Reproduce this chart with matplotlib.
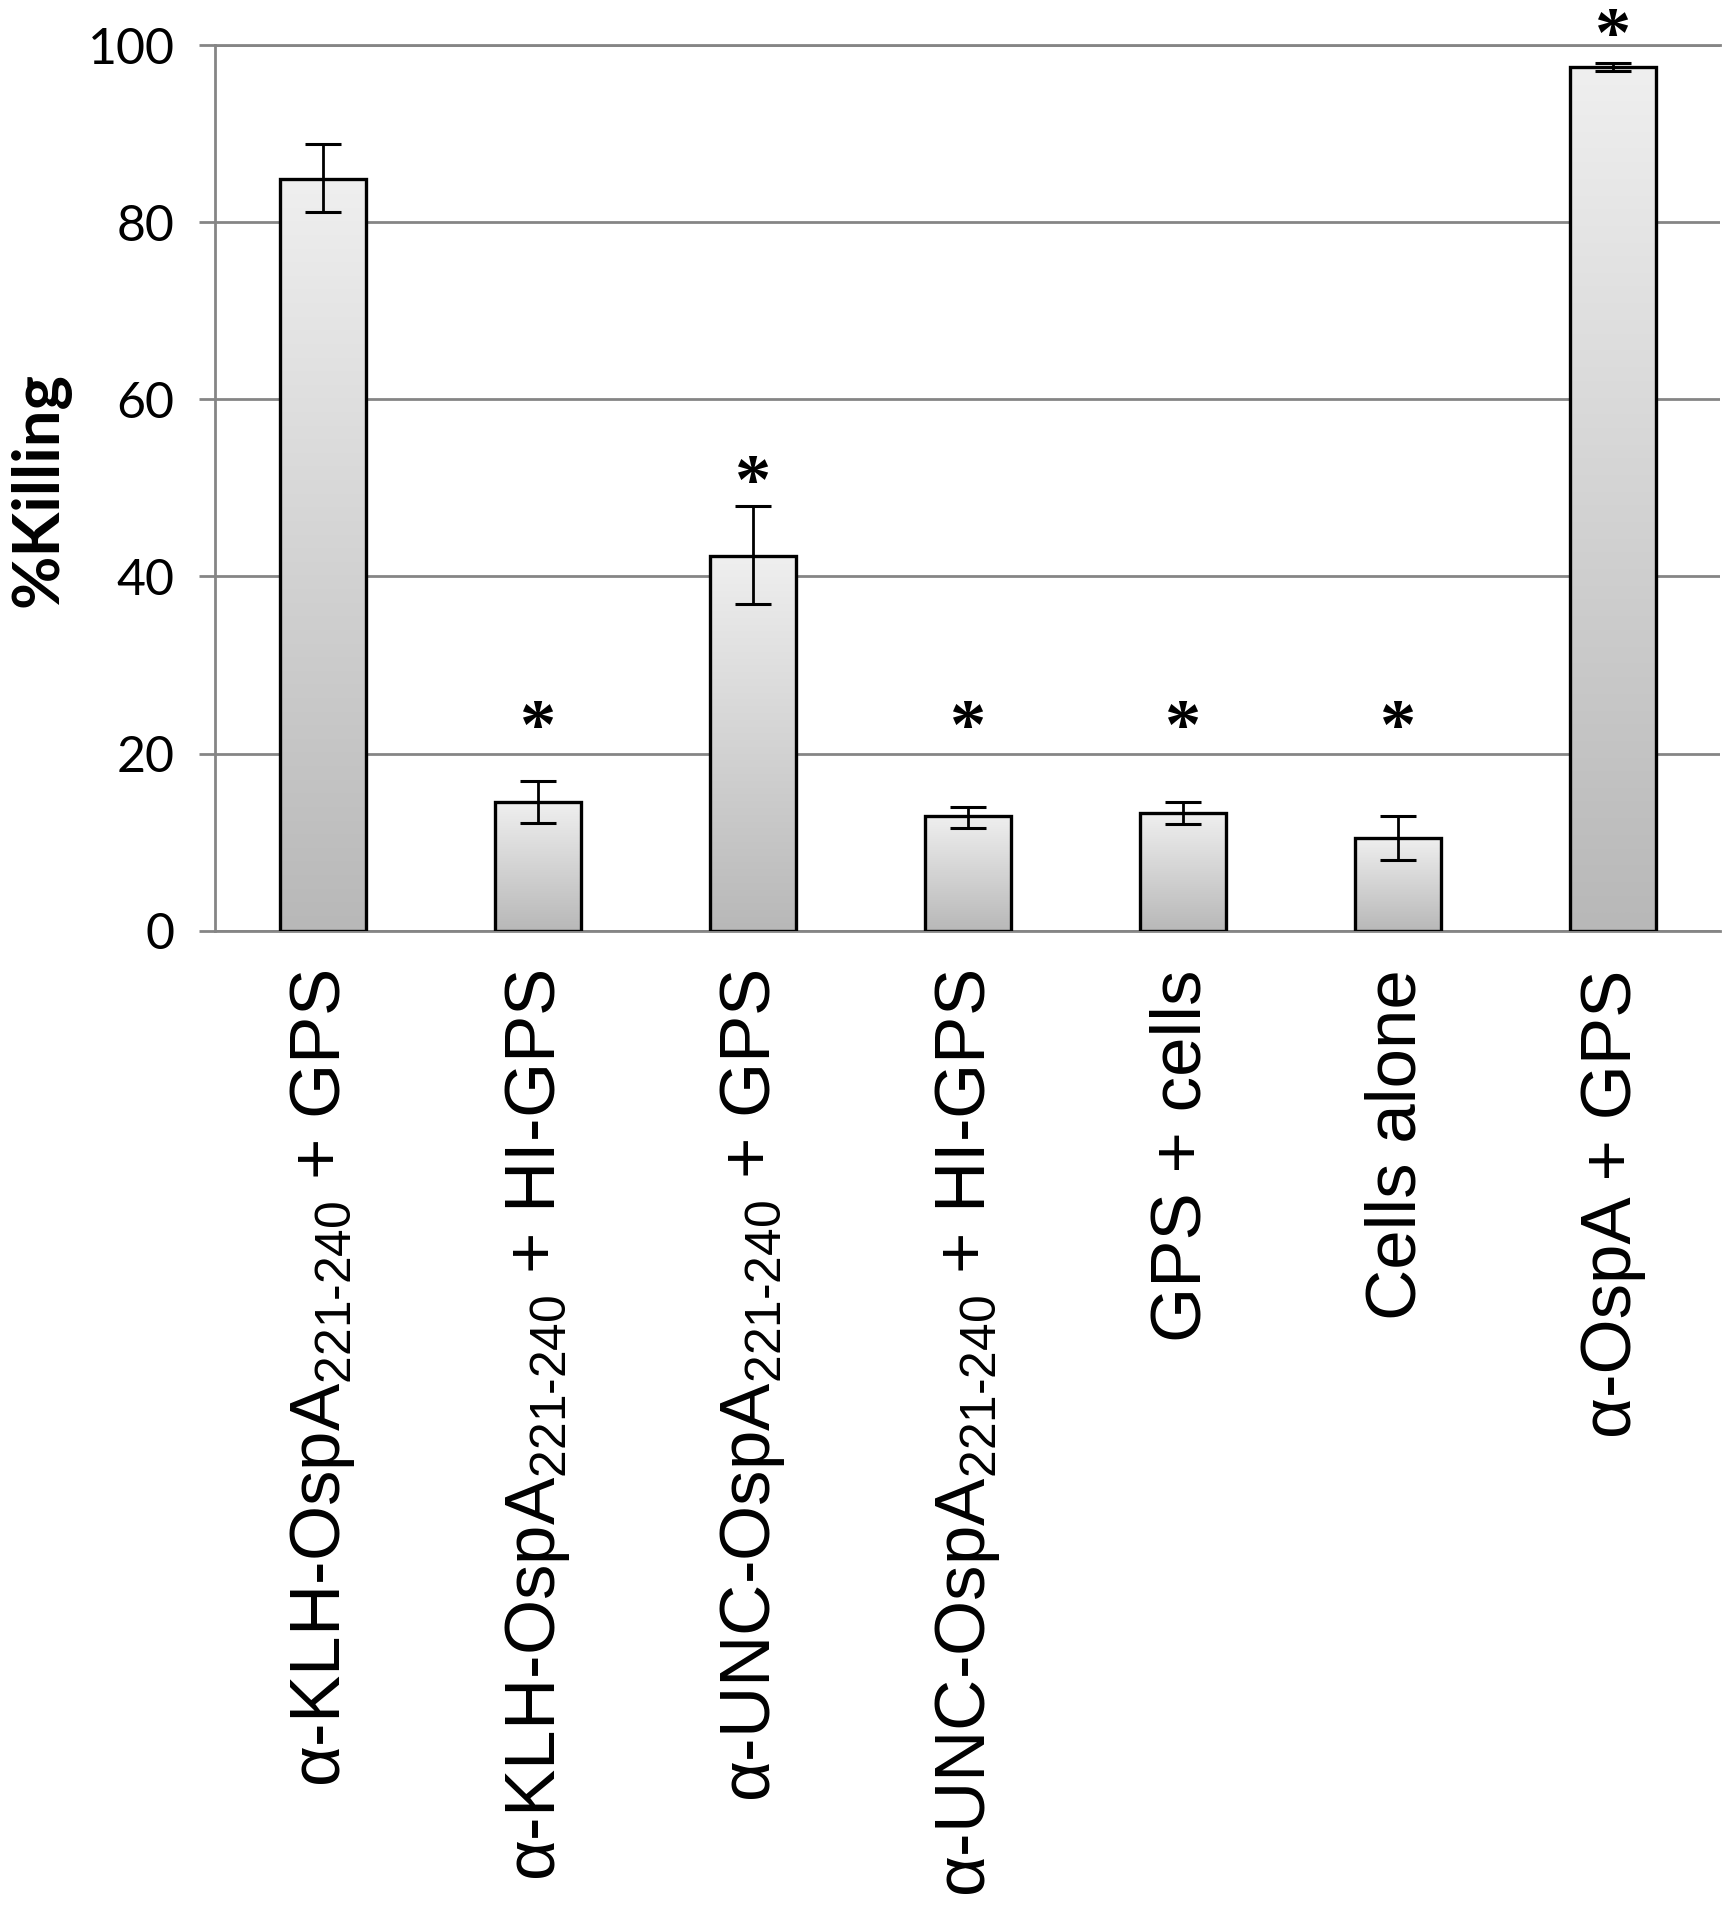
# %Killing bar chart with gradient bars, error bars and significance stars

import numpy as np
import matplotlib.pyplot as plt
from matplotlib.colors import LinearSegmentedColormap

plt.rcParams['mathtext.fontset'] = 'custom'
plt.rcParams['mathtext.rm'] = 'Liberation Sans'
plt.rcParams['mathtext.it'] = 'Liberation Sans:italic'
plt.rcParams['mathtext.bf'] = 'Liberation Sans:bold'
plt.rcParams['mathtext.fallback'] = 'stixsans'

# data
labels = [r'α-KLH-OspA$_{\mathrm{221‐240}}$ + GPS',
          r'α-KLH-OspA$_{\mathrm{221‐240}}$ + HI-GPS',
          r'α-UNC-OspA$_{\mathrm{221‐240}}$ + GPS',
          r'α-UNC-OspA$_{\mathrm{221‐240}}$ + HI-GPS',
          'GPS + cells',
          'Cells alone',
          'α-OspA + GPS']
values = [84.9, 14.5, 42.3, 12.9, 13.3, 10.5, 97.6]
err_low = [3.7, 2.3, 5.4, 1.3, 1.3, 2.5, 0.45]
err_high = [3.9, 2.4, 5.7, 1.1, 1.2, 2.4, 0.45]
stars = [False, True, True, True, True, True, True]
star_y = [np.nan, 22.6, 50.3, 22.6, 22.6, 22.6, 100.8]
yticks = [0, 20, 40, 60, 80, 100]

grid_col = '#858585'
cmap = LinearSegmentedColormap.from_list('bar', ['#b8b8b8', '#efefef'])
grad = np.linspace(0, 1, 256).reshape(-1, 1)

fig = plt.figure(figsize=(17.29, 19.2), dpi=100)
ax = fig.add_axes([0.1246, 0.5153, 0.8704, 0.4611])

x = np.arange(len(labels))
bars = ax.bar(x, values, width=0.4, facecolor='none', edgecolor='black',
              linewidth=2.4, zorder=4)
for b in bars:                                      # gradient fill inside each bar
    x0, y0, w, h = b.get_x(), b.get_y(), b.get_width(), b.get_height()
    im = ax.imshow(grad, extent=[x0, x0 + w, y0, y0 + h], aspect='auto',
                   cmap=cmap, origin='lower', zorder=3, interpolation='bilinear')
    im.set_clip_path(b)

ax.errorbar(x, values, yerr=[err_low, err_high], fmt='none', ecolor='black',
            elinewidth=2.0, capsize=13, capthick=2.2, zorder=5)

for xi, s, sy in zip(x, stars, star_y):
    if s:
        ax.text(xi, sy, '*', ha='center', va='center', fontsize=52,
                family='Liberation Serif', fontweight='bold',
                clip_on=False, zorder=6)

ax.set_xlim(-0.5, len(labels) - 0.5)
ax.set_ylim(0, 100)
ax.set_yticks(yticks)
ax.yaxis.grid(True, color=grid_col, linewidth=2.0)
ax.set_axisbelow(True)

ax.spines['right'].set_visible(False)
for side in ['left', 'bottom', 'top']:
    ax.spines[side].set_color(grid_col)
    ax.spines[side].set_linewidth(2.0)

ax.tick_params(axis='y', length=11.5, width=2.0, color=grid_col, pad=18)
for t in ax.get_yticklabels():
    t.set_fontfamily('Lato')
    t.set_fontsize(36)

ax.set_xticks(x)
ax.set_xticklabels(labels, rotation=90, ha='center', va='top',
                   fontsize=51, family='Liberation Sans')
ax.tick_params(axis='x', length=0, pad=28)

fig.text(0.0234, 0.745, '%Killing', rotation=90, ha='center', va='center',
         fontsize=47, fontweight='bold', family='Lato')

fig.savefig('out.png', dpi=100, facecolor='white')
